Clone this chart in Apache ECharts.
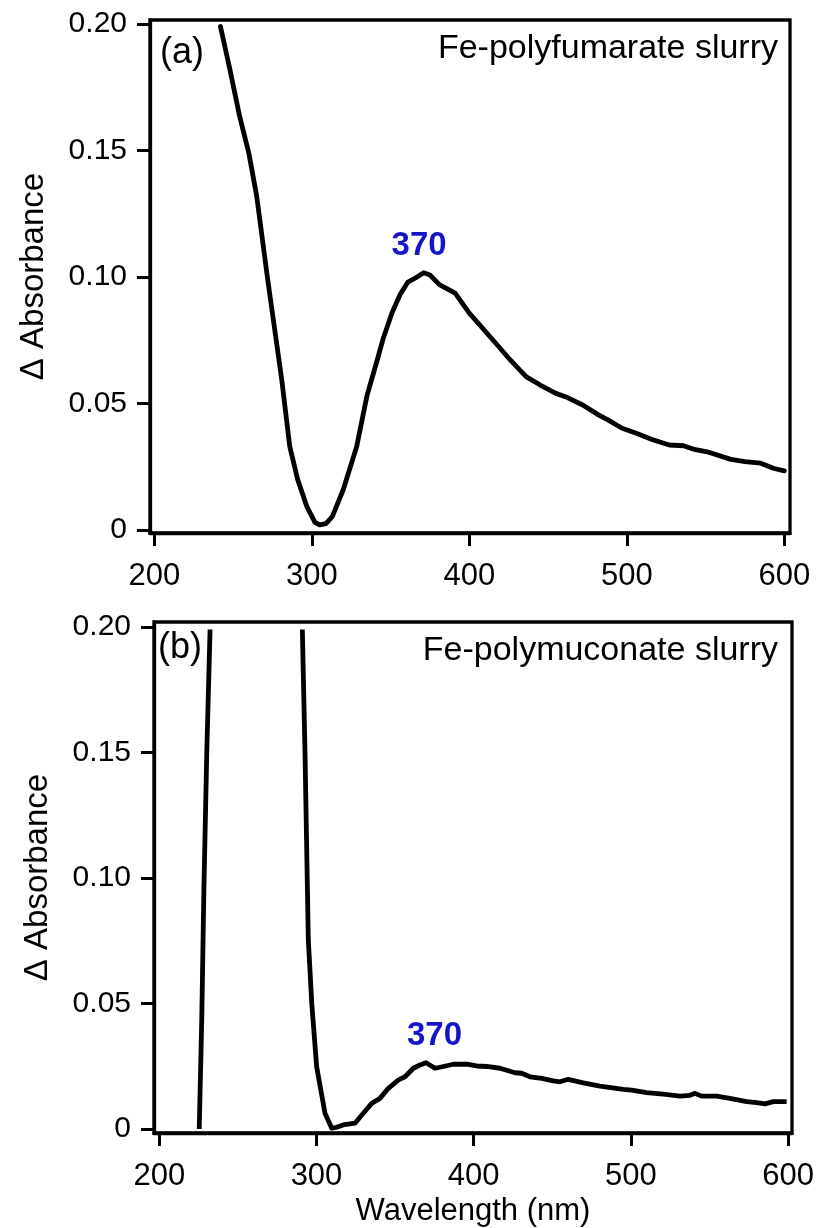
<!DOCTYPE html>
<html>
<head>
<meta charset="utf-8">
<script src="https://cdn.jsdelivr.net/npm/echarts@6/dist/echarts.min.js"></script>
<style>
html,body{margin:0;padding:0;background:#fff;}
#chart{width:817px;height:1228px;}
</style>
</head>
<body>
<div id="chart"></div>
<script>
// ---- Data ----
const wavelengthA = [242,248,254,260,265,272,281,286,291,297,302,305,309,313,320,328.5,335,341,345.5,351,356,361,365.5,371,375,381,391,400,415,426,436,445,455,461,472,482,488,497,506,516,527,536,542,551,566,575,585,593,600];
const absorbanceA = [0.199,0.182,0.164,0.149,0.132,0.099,0.059,0.033,0.020,0.009,0.003,0.002,0.0025,0.0053,0.016,0.033,0.053,0.066,0.076,0.086,0.093,0.098,0.0995,0.1017,0.1008,0.097,0.0936,0.0857,0.0751,0.0672,0.0606,0.0573,0.054,0.0527,0.0494,0.0455,0.0435,0.0402,0.0382,0.0358,0.0336,0.0333,0.032,0.0309,0.0279,0.027,0.0264,0.0244,0.0234];

const wavelengthB = [225.4,227,228.4,230.2,232.3,null,291,292.7,294.8,297,300.1,305.4,309.7,312.8,317,324.5,329.8,335.1,340.4,345.7,352,356.3,361.6,365.8,369.7,375.4,380.7,387,395.5,401.9,408.3,416.7,426.3,430.5,435.8,443.3,450.6,454.9,460.2,469.7,480.3,495.2,500.5,510,520.6,531.2,537.6,540.8,545,554.6,563,573.7,580,585.3,590.6,599.1];
const absorbanceB = [0,0.0434,0.0965,0.150,0.199,null,0.199,0.1497,0.0753,0.050,0.0248,0.0063,0.0003,0.0007,0.0016,0.0023,0.0063,0.0102,0.0122,0.0162,0.0195,0.0208,0.0242,0.0255,0.0264,0.0242,0.0249,0.0258,0.0258,0.0251,0.0249,0.0242,0.0224,0.0222,0.0208,0.0202,0.0192,0.0188,0.0198,0.0184,0.0171,0.0158,0.0155,0.0145,0.0139,0.0131,0.0134,0.0142,0.0131,0.0131,0.0122,0.0109,0.0105,0.0100,0.0109,0.0109];

const xTicks = [200,300,400,500,600];
const yTicks = [0,0.05,0.10,0.15,0.20];
const peakLabel = '370';
const peakWavelength = 370;
const peakA = 0.1017;
const peakB = 0.0264;
const panelLabels = ['(a)','(b)'];
const sampleNames = ['Fe-polyfumarate slurry','Fe-polymuconate slurry'];
const yTitle = 'Δ Absorbance';
const xTitle = 'Wavelength (nm)';

// ---- Build ----
const FONT = '"Liberation Sans", Arial, Helvetica, sans-serif';
const FS = 30;
const FS_TXT = 34;
function pairs(xs, ys){ return xs.map((x,i)=> (x===null||ys[i]===null) ? [null,null] : [x, ys[i]]); }
function yFmt(v){ return Math.abs(v) < 1e-9 ? '0' : v.toFixed(2); }

function xAxisCfg(gridIndex, min, max, showName){
  return {
    type:'value', gridIndex, min, max,
    splitLine:{show:false},
    axisLine:{show:true, onZero:false, lineStyle:{color:'#000', width:3.3}},
    axisTick:{show:true, inside:false, length:13, customValues:xTicks, lineStyle:{color:'#000', width:3}},
    axisLabel:{show:true, customValues:xTicks, margin:28, color:'#000', fontSize:31, fontFamily:FONT},
    name: showName ? xTitle : '',
    nameLocation:'middle', nameGap:63,
    nameTextStyle:{color:'#000', fontSize:31, fontFamily:FONT}
  };
}
function yAxisCfg(gridIndex, min, max){
  return {
    type:'value', gridIndex, min, max,
    splitLine:{show:false},
    axisLine:{show:true, onZero:false, lineStyle:{color:'#000', width:3.3}},
    axisTick:{show:true, inside:false, length:13, customValues:yTicks, lineStyle:{color:'#000', width:3}},
    axisLabel:{show:true, customValues:yTicks, margin:23, color:'#000', fontSize:FS, fontFamily:FONT, formatter:yFmt},
    name: yTitle, nameLocation:'middle', nameRotate:90, nameGap:100,
    nameTextStyle:{color:'#000', fontSize:33, fontFamily:FONT}
  };
}
function peakMark(val, offset){
  return {
    symbol:'circle', symbolSize:0, silent:true,
    data:[{coord:[peakWavelength, val], value:peakLabel}],
    label:{show:true, position:'top', offset:offset, formatter:peakLabel, color:'#1414C8', fontWeight:'bold', fontSize:33, fontFamily:FONT}
  };
}

const option = {
  backgroundColor:'#fff',
  animation:false,
  grid:[
    {left:150, top:20, width:640, height:513, show:true, borderColor:'#000', borderWidth:3.3, backgroundColor:'transparent'},
    {left:154, top:622, width:638, height:511, show:true, borderColor:'#000', borderWidth:3.3, backgroundColor:'transparent'}
  ],
  xAxis:[ xAxisCfg(0, 197.27, 603.6, false), xAxisCfg(1, 196.63, 602.5, true) ],
  yAxis:[ yAxisCfg(0, -0.00119, 0.20158), yAxisCfg(1, -0.0016, 0.2020) ],
  series:[
    {type:'line', xAxisIndex:0, yAxisIndex:0, data:pairs(wavelengthA, absorbanceA), showSymbol:false, smooth:false,
     lineStyle:{color:'#000', width:4.8, join:'round', cap:'round'}, markPoint: peakMark(peakA, [-3,-5])},
    {type:'line', xAxisIndex:1, yAxisIndex:1, data:pairs(wavelengthB, absorbanceB), showSymbol:false, smooth:false, connectNulls:false,
     lineStyle:{color:'#000', width:4.8, join:'round'}, markPoint: peakMark(peakB, [8,-5])}
  ],
  graphic:[
    {type:'text', left:160, top:35, style:{text:panelLabels[0], fill:'#000', font:'36px '+FONT}},
    {type:'text', right:39, top:32, style:{text:sampleNames[0], fill:'#000', font:FS_TXT+'px '+FONT}},
    {type:'text', left:158, top:630, style:{text:panelLabels[1], fill:'#000', font:'36px '+FONT}},
    {type:'text', right:39, top:634, style:{text:sampleNames[1], fill:'#000', font:FS_TXT+'px '+FONT}}
  ]
};
const chart = echarts.init(document.getElementById('chart'), null, {renderer:'canvas'});
chart.setOption(option);
</script>
</body>
</html>
